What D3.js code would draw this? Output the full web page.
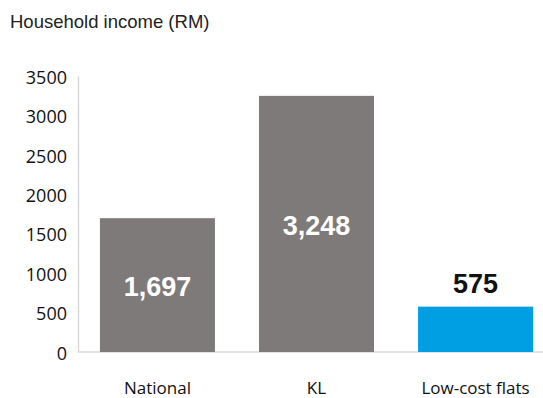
<!DOCTYPE html>
<html>
<head>
<meta charset="utf-8">
<script src="https://cdn.jsdelivr.net/npm/d3@7"></script>
<style>
  body { margin: 0; background: #fff; }
  svg { display: block; }
</style>
</head>
<body>
<script>
// chart data
const categories = ['National', 'KL', 'Low-cost flats'];
const incomes = [1697, 3248, 575];
const yTicks = [0, 500, 1000, 1500, 2000, 2500, 3000, 3500];

const W = 543, H = 398;

const svg = d3.select('body').append('svg')
  .attr('width', W)
  .attr('height', H);

// title
svg.append('text')
  .attr('x', 10)
  .attr('y', 28)
  .attr('font-family', 'Liberation Sans, Arial, sans-serif')
  .attr('font-size', 18.5)
  .attr('fill', '#222')
  .text('Household income (RM)');

const xScale = d3.scaleBand()
  .domain(categories)
  .range([78, 555])
  .paddingInner(0.277)
  .paddingOuter(0.138);

const yScale = d3.scaleLinear()
  .domain([0, 3500])
  .range([352, 76]);

// baseline across
svg.append('line')
  .attr('x1', 78).attr('x2', W)
  .attr('y1', yScale(0)).attr('y2', yScale(0))
  .attr('stroke', '#d9d9d9')
  .attr('stroke-width', 1.5);

// y axis
const leftAxis = d3.axisLeft(yScale).tickValues(yTicks).tickSize(0).tickPadding(11).tickFormat(d3.format('d'));
const yAxisGroup = svg.append('g')
  .attr('transform', 'translate(78,0)')
  .call(leftAxis);
yAxisGroup.select('.domain').attr('stroke', '#d9d9d9').attr('stroke-width', 1.5);
yAxisGroup.selectAll('text')
  .attr('font-family', 'Open Sans, sans-serif')
  .attr('font-size', 18)
  .attr('fill', '#111')
  .attr('dy', '0.4em');

// bars
svg.selectAll('rect.bar')
  .data(incomes)
  .enter()
  .append('rect')
  .attr('class', 'bar')
  .attr('x', (d, i) => xScale(categories[i]))
  .attr('width', xScale.bandwidth())
  .attr('y', d => yScale(d))
  .attr('height', d => yScale(0) - yScale(d))
  .attr('fill', (d, i) => i === 2 ? '#009fe3' : '#7f7a7a');

// value labels
svg.selectAll('text.val')
  .data(incomes)
  .enter()
  .append('text')
  .attr('class', 'val')
  .attr('x', (d, i) => xScale(categories[i]) + xScale.bandwidth() / 2)
  .attr('y', (d, i) => i === 2 ? yScale(d) - 14 : (yScale(d) + yScale(0)) / 2 + 11)
  .attr('text-anchor', 'middle')
  .attr('font-family', 'Liberation Sans, Arial, sans-serif')
  .attr('font-weight', 'bold')
  .attr('font-size', 27)
  .attr('fill', (d, i) => i === 2 ? '#111' : '#fff')
  .text(d => d3.format(',')(d));

// category labels
svg.selectAll('text.cat')
  .data(categories)
  .enter()
  .append('text')
  .attr('class', 'cat')
  .attr('x', d => xScale(d) + xScale.bandwidth() / 2)
  .attr('y', 394)
  .attr('text-anchor', 'middle')
  .attr('font-family', 'Open Sans, sans-serif')
  .attr('font-size', 17)
  .attr('fill', '#111')
  .text(d => d);
</script>
</body>
</html>
